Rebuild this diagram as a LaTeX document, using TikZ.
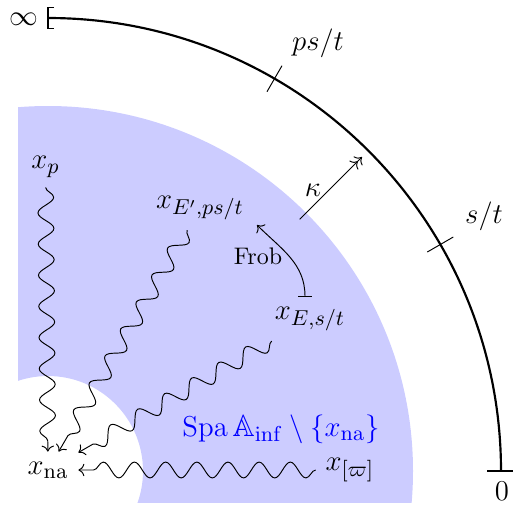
\documentclass[tikz,border=0pt,12pt]{standalone}
\usepackage{amsmath,amssymb}
\usetikzlibrary{decorations.pathmorphing,arrows.meta}
\tikzset{
  wavy/.style={->, decorate, decoration={snake, amplitude=3.3pt, segment length=13pt, post length=1.5mm}},
  tickmark/.style={line width=0.4pt},
  mainarc/.style={line width=0.9pt},
  lbl/.style={font=\fontsize{12.8pt}{15pt}\selectfont}
}
\begin{document}
\begin{tikzpicture}[x=0.417pt,y=0.417pt]
\useasboundingbox (-48,-35) rectangle (466,471);
% blue annular sector
\begin{scope}
  \clip (-30,-31) rectangle (466,471);
  \fill[blue!20, even odd rule] (0,0) circle[radius=365] (0,0) circle[radius=95];
\end{scope}
% main arc
\draw[mainarc] (0,453) arc[start angle=90, end angle=0, radius=453];
\draw[line width=0.5pt] (6,463.5) -- (0,463.5) -- (0,442.5) -- (6,442.5);
\draw[line width=0.5pt] (439,0) -- (465,0);
\draw[tickmark] (60:438) -- (60:468);
\draw[tickmark] (30:438) -- (30:468);
\node[inner sep=1pt] (inf) at (-24,452) {$\infty$};
\node (zero) at (454,-20) {$0$};
\node[lbl] (pst) at (270,428) {$ps/t$};
\node[lbl] (st) at (436,255) {$s/t$};
% kappa arrow
\coordinate (k1) at (45:356);
\coordinate (k2) at (45:444);
\draw[->>] (k1) -- (k2);
\node[lbl] (kappa) at (265,281) {$\kappa$};
% points
\node[lbl] (xna) at (0,1) {$x_{\mathrm{na}}$};
\node[lbl] (xp) at (-2.5,304) {$x_p$};
\node[lbl] (xEp) at (152,263) {$x_{E',ps/t}$};
\node[lbl] (xE) at (262,152) {$x_{E,s/t}$};
\node[lbl] (xw) at (302,1) {$x_{[\varpi]}$};
\node[lbl, text=blue] (spa) at (233,42) {$\operatorname{Spa}\mathbb{A}_{\mathrm{inf}}\setminus\{x_{\mathrm{na}}\}$};
% Frobenius
\node[font=\footnotesize] (frob) at (210,215) {Frob};
\coordinate (f1) at (257,174);
\coordinate (f2) at (209,246);
\draw[{Bar[width=5.5pt]}->] (f1) to[out=90, in=-45] (f2);
% wavy arrows
\draw[wavy] (xp) -- (xna);
\draw[wavy] (xEp) -- (xna);
\draw[wavy] (xE) -- (xna);
\draw[wavy] (xw) -- (xna);
\end{tikzpicture}
\end{document}
